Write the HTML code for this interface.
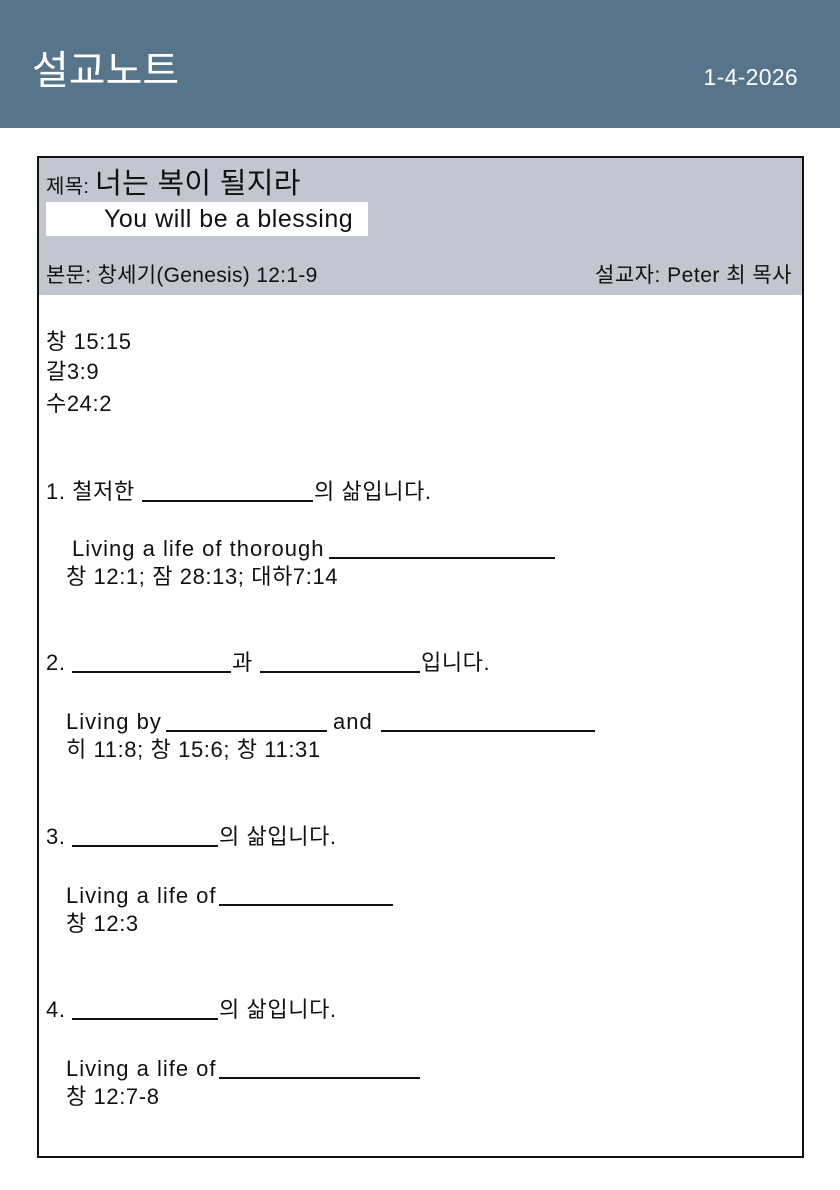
<!DOCTYPE html>
<html><head><meta charset="utf-8"><style>
*{margin:0;padding:0;box-sizing:border-box}
body{width:840px;height:1190px;background:#fff;position:relative;overflow:hidden;font-family:"Liberation Sans","Noto Sans CJK KR",sans-serif;color:#111}
.hdr{position:absolute;left:0;top:0;width:840px;height:128px;background:#56758b}
.t{position:absolute;white-space:nowrap;line-height:26px;font-size:22px;letter-spacing:0.6px}
.e{letter-spacing:1px}
.b{position:absolute;height:1.5px;background:#111}
</style></head><body>
<div class="hdr"></div>
<div class="t" style="left:32px;top:48px;font-size:40px;line-height:46px;color:#fff;letter-spacing:0">설교노트</div>
<div class="t" style="right:42px;top:64px;font-size:23px;color:#fff;letter-spacing:0.3px">1-4-2026</div>

<div style="position:absolute;left:37px;top:156px;width:767px;height:1002px;border:2px solid #111"></div>
<div style="position:absolute;left:39px;top:158px;width:763px;height:137px;background:#c3c6cf"></div>
<div class="t" style="left:46px;top:168px;font-size:20px;line-height:32px;letter-spacing:0.3px">제목: <span style="font-size:29px">너는 복이 될지라</span></div>
<div style="position:absolute;left:46px;top:202px;width:322px;height:34px;background:#fff"></div>
<div class="t" style="left:104px;top:205px;font-size:25px;line-height:28px;letter-spacing:0.5px">You will be a blessing</div>
<div class="t" style="left:46px;top:263px;font-size:21px;letter-spacing:0.3px">본문: 창세기(Genesis) 12:1-9</div>
<div class="t" style="right:48px;top:263px;font-size:21px;letter-spacing:0.5px">설교자: Peter 최 목사</div>

<div class="t" style="left:46px;top:329px">창 15:15</div>
<div class="t" style="left:46px;top:359px">갈3:9</div>
<div class="t" style="left:46px;top:391px">수24:2</div>

<div class="t" style="left:46px;top:479px">1. 철저한</div><div class="b" style="left:142px;width:171px;top:500px"></div><div class="t" style="left:314px;top:479px">의 삶입니다.</div>
<div class="t e" style="left:72px;top:536px">Living a life of thorough</div><div class="b" style="left:329px;width:226px;top:557px"></div>
<div class="t" style="left:66px;top:564px">창 12:1; 잠 28:13; 대하7:14</div>

<div class="t" style="left:46px;top:650px">2.</div><div class="b" style="left:72px;width:159px;top:671px"></div><div class="t" style="left:232px;top:650px">과</div><div class="b" style="left:260px;width:160px;top:671px"></div><div class="t" style="left:421px;top:650px">입니다.</div>
<div class="t e" style="left:66px;top:709px">Living by</div><div class="b" style="left:166px;width:161px;top:730px"></div><div class="t e" style="left:333px;top:709px">and</div><div class="b" style="left:381px;width:214px;top:730px"></div>
<div class="t" style="left:66px;top:737px">히 11:8; 창 15:6; 창 11:31</div>

<div class="t" style="left:46px;top:824px">3.</div><div class="b" style="left:72px;width:146px;top:845px"></div><div class="t" style="left:219px;top:824px">의 삶입니다.</div>
<div class="t e" style="left:66px;top:883px">Living a life of</div><div class="b" style="left:219px;width:174px;top:904px"></div>
<div class="t" style="left:66px;top:911px">창 12:3</div>

<div class="t" style="left:46px;top:997px">4.</div><div class="b" style="left:72px;width:146px;top:1018px"></div><div class="t" style="left:219px;top:997px">의 삶입니다.</div>
<div class="t e" style="left:66px;top:1056px">Living a life of</div><div class="b" style="left:219px;width:201px;top:1077px"></div>
<div class="t" style="left:66px;top:1084px">창 12:7-8</div>
</body></html>
